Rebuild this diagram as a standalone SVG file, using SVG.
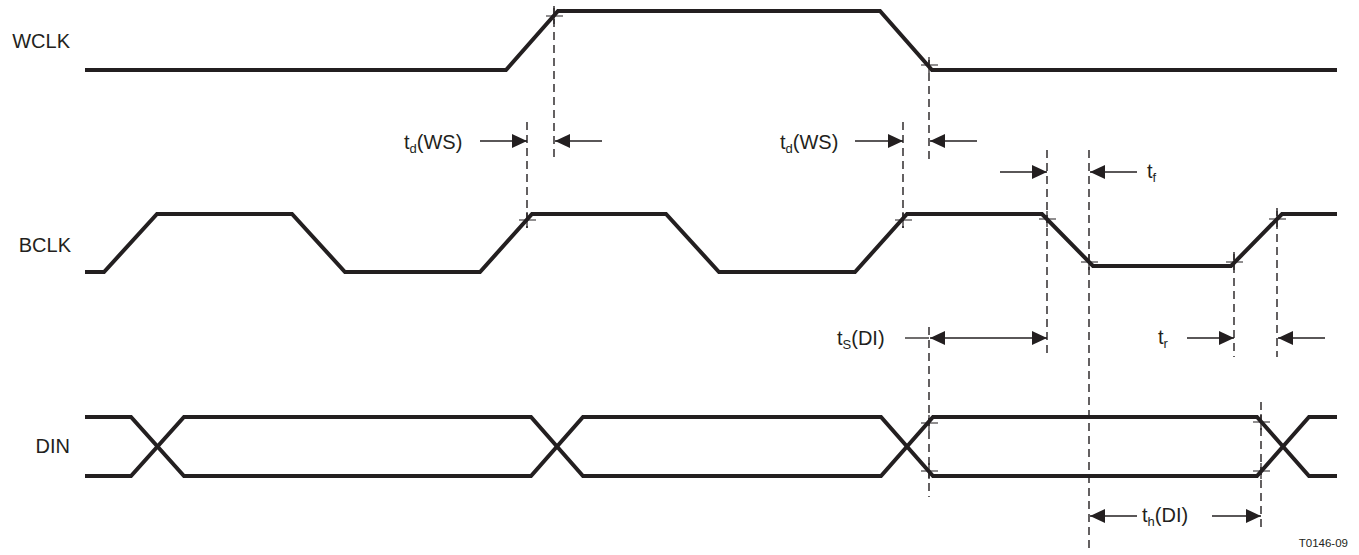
<svg xmlns="http://www.w3.org/2000/svg" width="1359" height="555" viewBox="0 0 1359 555">
<style>
.sig{fill:none;stroke:#231f20;stroke-width:4;stroke-linejoin:miter}
.dash{fill:none;stroke:#231f20;stroke-width:1.4;stroke-dasharray:8 5}
.arr{fill:none;stroke:#231f20;stroke-width:1.3}
.tick{fill:none;stroke:#231f20;stroke-width:1.2}
.lbl{font-family:"Liberation Sans",Arial,sans-serif;font-size:20px;fill:#231f20}
.sm{font-family:"Liberation Sans",Arial,sans-serif;font-size:11.5px;fill:#231f20}
</style>
<defs>
<marker id="ah" markerUnits="userSpaceOnUse" markerWidth="16" markerHeight="16" refX="15" refY="7" orient="auto-start-reverse" viewBox="0 0 16 14">
<path d="M0,0 L15,7 L0,14 Z" fill="#231f20"/>
</marker>
</defs>
<rect width="1359" height="555" fill="#ffffff"/>
<g id="wclk">
<text class="lbl" x="70" y="48" text-anchor="end">WCLK</text>
<path class="sig" d="M85,70 H506 L558,11 H880 L932,70 H1337"/>
</g>
<g id="bclk">
<text class="lbl" x="71" y="252" text-anchor="end">BCLK</text>
<path class="sig" d="M85,272 H104 L157,214 H292 L345,272 H480 L532,214 H666 L719,272 H855 L907,214 H1042 L1093,266 H1231 L1282,214 H1337"/>
</g>
<g id="din">
<text class="lbl" x="70" y="453" text-anchor="end">DIN</text>
<path class="sig" d="M85,417 H131 L184,476 H531 L583,417 H881 L933,476 H1257 L1309,417 H1337"/>
<path class="sig" d="M85,476 H131 L184,417 H531 L583,476 H881 L933,417 H1257 L1309,476 H1337"/>
</g>
<g id="connectors">
<!-- dashed reference lines -->
<line class="dash" x1="554" y1="6" x2="554" y2="160"/>
<line class="dash" x1="527" y1="122" x2="527" y2="228"/>
<line class="dash" x1="929" y1="60" x2="929" y2="160"/>
<line class="dash" x1="903" y1="122" x2="903" y2="228"/>
<line class="dash" x1="1047" y1="150" x2="1047" y2="357"/>
<line class="dash" x1="1089" y1="150" x2="1089" y2="552"/>
<line class="dash" x1="1234" y1="252" x2="1234" y2="357"/>
<line class="dash" x1="1277" y1="208" x2="1277" y2="357"/>
<line class="dash" x1="929" y1="327" x2="929" y2="497"/>
<line class="dash" x1="1261" y1="402" x2="1261" y2="530"/>
<!-- ticks -->
<path class="tick" d="M546,16 H563 M554,8 V24"/>
<path class="tick" d="M921,65 H938 M929,57 V73"/>
<path class="tick" d="M519,220 H536 M527,212 V228"/>
<path class="tick" d="M895,220 H912 M903,212 V228"/>
<path class="tick" d="M1039,219 H1056 M1047,211 V227"/>
<path class="tick" d="M1081,262 H1098 M1089,254 V270"/>
<path class="tick" d="M1226,262 H1243 M1234,254 V270"/>
<path class="tick" d="M1269,219 H1286 M1277,211 V227"/>
<path class="tick" d="M921,423 H938 M929,415 V431"/>
<path class="tick" d="M921,471 H938 M929,463 V479"/>
<path class="tick" d="M1253,422 H1270 M1261,414 V430"/>
<path class="tick" d="M1253,471 H1270 M1261,463 V479"/>
<!-- dimension arrows -->
<line class="arr" x1="480" y1="141" x2="527" y2="141" marker-end="url(#ah)"/>
<line class="arr" x1="602" y1="141" x2="555" y2="141" marker-end="url(#ah)"/>
<line class="arr" x1="855" y1="141" x2="903" y2="141" marker-end="url(#ah)"/>
<line class="arr" x1="977" y1="141" x2="930" y2="141" marker-end="url(#ah)"/>
<line class="arr" x1="1000" y1="172" x2="1047" y2="172" marker-end="url(#ah)"/>
<line class="arr" x1="1137" y1="172" x2="1090" y2="172" marker-end="url(#ah)"/>
<line class="arr" x1="905" y1="338" x2="929" y2="338"/>
<line class="arr" x1="930" y1="338" x2="1047" y2="338" marker-start="url(#ah)" marker-end="url(#ah)"/>
<line class="arr" x1="1187" y1="338" x2="1234" y2="338" marker-end="url(#ah)"/>
<line class="arr" x1="1325" y1="338" x2="1278" y2="338" marker-end="url(#ah)"/>
<line class="arr" x1="1137" y1="516" x2="1090" y2="516" marker-end="url(#ah)"/>
<line class="arr" x1="1212" y1="516" x2="1261" y2="516" marker-end="url(#ah)"/>
</g>
<g id="labels">
<text class="lbl" x="404" y="149">t<tspan font-size="13" dy="4">d</tspan><tspan dy="-4">(WS)</tspan></text>
<text class="lbl" x="780" y="149">t<tspan font-size="13" dy="4">d</tspan><tspan dy="-4">(WS)</tspan></text>
<text class="lbl" x="1147" y="178">t<tspan font-size="13" dy="4">f</tspan></text>
<text class="lbl" x="837" y="345">t<tspan font-size="13" dy="4">S</tspan><tspan dy="-4">(DI)</tspan></text>
<text class="lbl" x="1158" y="344">t<tspan font-size="13" dy="4">r</tspan></text>
<text class="lbl" x="1142" y="522">t<tspan font-size="13" dy="4">h</tspan><tspan dy="-4">(DI)</tspan></text>
<text class="sm" x="1348" y="547" text-anchor="end">T0146-09</text>
</g>
</svg>
